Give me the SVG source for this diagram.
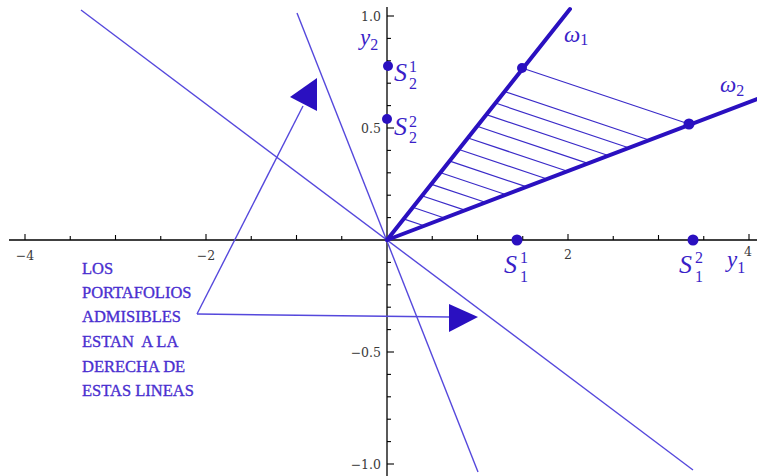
<svg xmlns="http://www.w3.org/2000/svg" width="757" height="476" viewBox="0 0 757 476">
<style>
.axis{stroke:#000;stroke-width:1.3;fill:none}
.tick{stroke:#000;stroke-width:1.1}
.tl{font-family:"DejaVu Serif","Liberation Serif",serif;font-size:12.5px;fill:#3a3a3a}
.thin{stroke:#5548dc;stroke-width:1.4;fill:none}
.thick{stroke:#2a10c0;stroke-width:4;fill:none;stroke-linecap:round}
.hatch{stroke:#3a2ac8;stroke-width:1.2}
.dot{fill:#2a10c0}
.lbl{font-family:"Liberation Serif",serif;font-style:italic;fill:#3a1fc8}
.num{font-family:"Liberation Serif",serif;fill:#3a1fc8}
.note{font-family:"Liberation Serif",serif;font-size:16.5px;fill:#4a2fd0;stroke:#4a2fd0;stroke-width:0.35}
.head{fill:#2a10c0}
</style>
<rect width="757" height="476" fill="#fff"/>
<g id="axes">
<line class="axis" x1="9" y1="240" x2="757" y2="240"/>
<line class="axis" x1="387" y1="7" x2="387" y2="476"/>
<g class="tick">
<line x1="25" y1="240" x2="25" y2="234"/><line x1="70.25" y1="240" x2="70.25" y2="236"/>
<line x1="115.5" y1="240" x2="115.5" y2="235"/><line x1="160.75" y1="240" x2="160.75" y2="236"/>
<line x1="206" y1="240" x2="206" y2="234"/><line x1="251.25" y1="240" x2="251.25" y2="236"/>
<line x1="296.5" y1="240" x2="296.5" y2="235"/><line x1="341.75" y1="240" x2="341.75" y2="236"/>
<line x1="432.25" y1="240" x2="432.25" y2="236"/><line x1="477.5" y1="240" x2="477.5" y2="235"/>
<line x1="522.75" y1="240" x2="522.75" y2="236"/><line x1="568" y1="240" x2="568" y2="234"/>
<line x1="613.25" y1="240" x2="613.25" y2="236"/><line x1="658.5" y1="240" x2="658.5" y2="235"/>
<line x1="703.75" y1="240" x2="703.75" y2="236"/><line x1="749" y1="240" x2="749" y2="234"/>
<line x1="387" y1="16" x2="394" y2="16"/><line x1="387" y1="38.4" x2="391" y2="38.4"/>
<line x1="387" y1="60.8" x2="391" y2="60.8"/><line x1="387" y1="83.2" x2="391" y2="83.2"/>
<line x1="387" y1="105.6" x2="391" y2="105.6"/><line x1="387" y1="128" x2="394" y2="128"/>
<line x1="387" y1="150.4" x2="391" y2="150.4"/><line x1="387" y1="172.8" x2="391" y2="172.8"/>
<line x1="387" y1="195.2" x2="391" y2="195.2"/><line x1="387" y1="217.6" x2="391" y2="217.6"/>
<line x1="387" y1="262.4" x2="391" y2="262.4"/><line x1="387" y1="284.8" x2="391" y2="284.8"/>
<line x1="387" y1="307.2" x2="391" y2="307.2"/><line x1="387" y1="329.6" x2="391" y2="329.6"/>
<line x1="387" y1="352" x2="394" y2="352"/><line x1="387" y1="374.4" x2="391" y2="374.4"/>
<line x1="387" y1="396.8" x2="391" y2="396.8"/><line x1="387" y1="419.2" x2="391" y2="419.2"/>
<line x1="387" y1="441.6" x2="391" y2="441.6"/><line x1="387" y1="464" x2="394" y2="464"/>
</g>
<text class="tl" x="25" y="260" text-anchor="middle">−4</text>
<text class="tl" x="206" y="260" text-anchor="middle">−2</text>
<text class="tl" x="568" y="259" text-anchor="middle" font-size="11">2</text>
<text class="tl" x="748" y="256" text-anchor="middle" font-size="11">4</text>
<text class="tl" x="381" y="21" text-anchor="end">1.0</text>
<text class="tl" x="381" y="133" text-anchor="end">0.5</text>
<text class="tl" x="381" y="357" text-anchor="end">−0.5</text>
<text class="tl" x="381" y="469" text-anchor="end">−1.0</text>
</g>
<g id="connectors">
<line class="thin" x1="81" y1="10" x2="693" y2="470"/>
<line class="thin" x1="297" y1="13" x2="478" y2="472"/>
<line class="thin" x1="197" y1="314" x2="303" y2="106"/>
<line class="thin" x1="197" y1="314" x2="450" y2="317"/>
<polygon class="head" points="317,78 290,97 317,111"/>
<polygon class="head" points="449,304 478,317 449,332"/>
</g>
<g id="region">
<line class="hatch" x1="522" y1="68" x2="689" y2="124"/>
<line class="hatch" x1="503.8" y1="91.2" x2="648.2" y2="139.7"/>
<line class="hatch" x1="494.7" y1="102.8" x2="627.8" y2="147.5"/>
<line class="hatch" x1="485.6" y1="114.4" x2="607.5" y2="155.3"/>
<line class="hatch" x1="476.4" y1="126.05" x2="587.1" y2="163.15"/>
<line class="hatch" x1="467.3" y1="137.7" x2="566.7" y2="171"/>
<line class="hatch" x1="458.2" y1="149.3" x2="546.3" y2="178.8"/>
<line class="hatch" x1="449.1" y1="160.9" x2="525.9" y2="186.6"/>
<line class="hatch" x1="440" y1="172.5" x2="505.5" y2="194.5"/>
<line class="hatch" x1="430.9" y1="184.1" x2="485.2" y2="202.3"/>
<line class="hatch" x1="421.8" y1="195.7" x2="464.8" y2="210.1"/>
<line class="hatch" x1="412.65" y1="207.3" x2="444.4" y2="218"/>
<line class="hatch" x1="403.5" y1="218.9" x2="424" y2="225.8"/>
</g>
<g id="omega1">
<line class="thick" x1="387" y1="240" x2="570" y2="9"/>
<circle class="dot" cx="522" cy="68" r="5"/>
<text class="lbl" x="564" y="42" font-size="23">ω<tspan class="num" font-style="normal" font-size="16" dy="3">1</tspan></text>
</g>
<g id="omega2">
<line class="thick" x1="387" y1="240" x2="757" y2="99"/>
<circle class="dot" cx="689" cy="124" r="5.5"/>
<text class="lbl" x="720" y="92" font-size="23">ω<tspan class="num" font-style="normal" font-size="16" dy="4">2</tspan></text>
</g>
<g id="S21">
<circle class="dot" cx="388" cy="66" r="5"/>
<text class="lbl" x="394" y="81" font-size="26">S</text>
<text class="num" x="409" y="72" font-size="16">1</text>
<text class="num" x="409" y="89" font-size="16">2</text>
</g>
<g id="S22">
<circle class="dot" cx="387" cy="119" r="5"/>
<text class="lbl" x="394" y="135" font-size="26">S</text>
<text class="num" x="409" y="127" font-size="16">2</text>
<text class="num" x="409" y="143" font-size="16">2</text>
</g>
<g id="S11">
<circle class="dot" cx="517" cy="240" r="5.5"/>
<text class="lbl" x="504" y="273" font-size="26">S</text>
<text class="num" x="520" y="263" font-size="16">1</text>
<text class="num" x="520" y="282" font-size="16">1</text>
</g>
<g id="S12">
<circle class="dot" cx="693" cy="240" r="5.5"/>
<text class="lbl" x="679" y="273" font-size="26">S</text>
<text class="num" x="695" y="263" font-size="16">2</text>
<text class="num" x="695" y="282" font-size="16">1</text>
</g>
<g id="y1label">
<text class="lbl" x="727" y="267" font-size="23">y<tspan class="num" font-style="normal" font-size="16" dy="6">1</tspan></text>
</g>
<g id="y2label">
<text class="lbl" x="360" y="45" font-size="23">y<tspan class="num" font-style="normal" font-size="16" dy="5">2</tspan></text>
</g>
<g id="note">
<text class="note" x="82" y="274">LOS</text>
<text class="note" x="82" y="298">PORTAFOLIOS</text>
<text class="note" x="82" y="322">ADMISIBLES</text>
<text class="note" x="82" y="347" xml:space="preserve">ESTAN  A LA</text>
<text class="note" x="82" y="372">DERECHA DE</text>
<text class="note" x="82" y="396">ESTAS LINEAS</text>
</g>
</svg>
